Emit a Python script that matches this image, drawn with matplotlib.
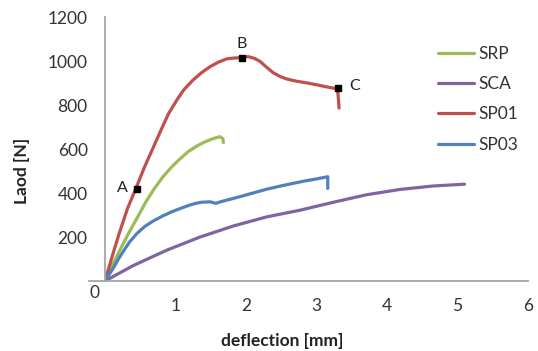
import matplotlib
matplotlib.use("Agg")
import matplotlib.pyplot as plt
from matplotlib.lines import Line2D

plt.rcParams['font.family'] = ['Lato', 'DejaVu Sans']

# ---- data ----
srp_x = [0, 0.12, 0.25, 0.36, 0.47, 0.58, 0.70, 0.82, 0.95, 1.07, 1.18, 1.30,
         1.42, 1.53, 1.63, 1.67, 1.68]
srp_y = [0, 82, 165, 232, 295, 360, 420, 473, 520, 557, 588, 613,
         633, 647, 656, 648, 629]

sca_x = [0, 0.40, 0.875, 1.35, 1.82, 2.30, 2.77, 3.24, 3.71, 4.18, 4.66, 5.10]
sca_y = [0, 70, 140, 200, 250, 292, 322, 358, 392, 416, 432, 440]

sp01_x = [0, 0.10, 0.20, 0.32, 0.45, 0.55, 0.64, 0.80, 0.90, 1.02, 1.12, 1.25,
          1.37, 1.49, 1.61, 1.73, 1.85, 1.94, 2.03, 2.12, 2.20, 2.28, 2.38,
          2.48, 2.58, 2.72, 2.87, 3.00, 3.15, 3.30, 3.32]
sp01_y = [0, 110, 215, 330, 430, 510, 575, 690, 760, 823, 870, 914,
          947, 974, 995, 1010, 1014, 1015, 1020, 1012, 998, 975, 948,
          930, 918, 908, 900, 892, 882, 873, 786]

sp03_x = [0, 0.06, 0.12, 0.19, 0.26, 0.35, 0.45, 0.56, 0.68, 0.82, 0.95, 1.08,
          1.20, 1.30, 1.37, 1.49, 1.57, 1.65, 1.78, 1.91, 2.10, 2.29, 2.48,
          2.67, 2.84, 3.00, 3.16, 3.16]
sp03_y = [0, 30, 60, 100, 135, 178, 215, 247, 272, 296, 315, 331,
          345, 354, 358, 360, 353, 361, 372, 383, 400, 417, 431,
          444, 455, 464, 474, 421]

series_names = ['SRP', 'SCA', 'SP01', 'SP03']

point_labels = ['A', 'B', 'C']
point_x = [0.46, 1.94, 3.30]
point_y = [418, 1014, 877]

x_ticks = [1, 2, 3, 4, 5, 6]
y_ticks = [200, 400, 600, 800, 1000, 1200]

# ---- figure ----
W, H = 538, 351
fig = plt.figure(figsize=(W / 100, H / 100), dpi=100)
ax = fig.add_axes([105 / W, 1 - 281 / H, (528 - 105) / W, (281 - 17) / H])

colors = ['#9BBB59', '#8064A2', '#C0504D', '#4F81BD']
xs = [srp_x, sca_x, sp01_x, sp03_x]
ys = [srp_y, sca_y, sp01_y, sp03_y]
for x, y, c, n in zip(xs, ys, colors, series_names):
    ax.plot(x, y, color=c, lw=2.3, label=n, solid_capstyle='round',
            solid_joinstyle='round')

ax.plot(point_x, point_y, 's', color='black', ms=4.5, ls='none', zorder=5)
offsets = [(-11, 1), (0, 10), (12, 1.5)]
for lab, px, py, off in zip(point_labels, point_x, point_y, offsets):
    ax.annotate(lab, (px, py), xytext=off, textcoords='offset points',
                ha='center', va='center', fontsize=11.5, color='#222222')

ax.set_xlim(0, 6)
ax.set_ylim(0, 1200)
for s in ['top', 'right']:
    ax.spines[s].set_visible(False)
for s in ['left', 'bottom']:
    ax.spines[s].set_color('#A6A6A6')
    ax.spines[s].set_linewidth(1.3)
# extend x axis slightly left of origin
ax.add_line(Line2D([-0.22, 0], [0, 0], color='#A6A6A6', lw=1.3, clip_on=False))

ax.set_xticks(x_ticks)
ax.set_yticks(y_ticks)
ax.set_xticklabels([str(v) for v in x_ticks])
ax.set_yticklabels([str(v) for v in y_ticks])
ax.tick_params(axis='both', length=0, labelsize=12.5, labelcolor='#333333')
ax.tick_params(axis='x', pad=12)
ax.tick_params(axis='y', pad=12.5)

fig.text(94 / W, 1 - 293 / H, '0', ha='center', va='center', fontsize=12.5,
         color='#333333')
fig.text(282 / W, 1 - 341 / H, 'deflection [mm]', ha='center', va='center',
         fontsize=12.5, fontweight='bold', color='#222222')
fig.text(21.7 / W, 1 - 171 / H, 'Laod [N]', ha='center', va='center',
         rotation=90, fontsize=12.5, fontweight='bold', color='#222222')

leg = ax.legend(loc='upper left', bbox_to_anchor=(438 / W, 1 - 46 / H),
                bbox_transform=fig.transFigure, frameon=False,
                borderaxespad=0, borderpad=0, fontsize=12.5,
                handlelength=2.1, handletextpad=0.25, labelspacing=0.82)
for t in leg.get_texts():
    t.set_color('#333333')

fig.savefig('out.png', dpi=100)
